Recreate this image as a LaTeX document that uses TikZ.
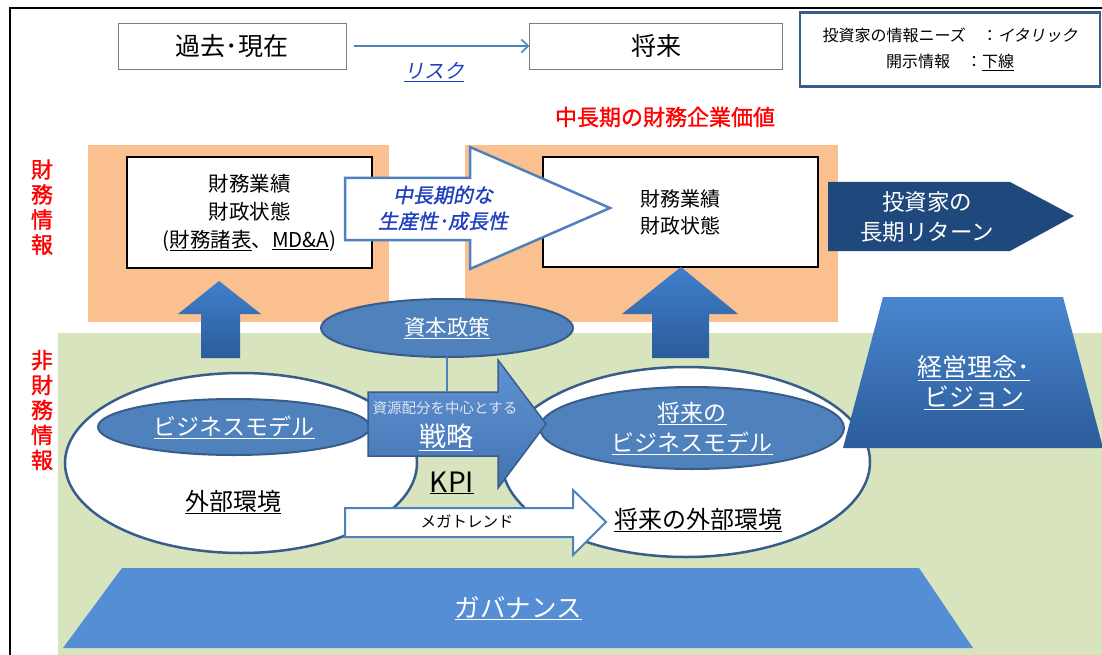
\documentclass[tikz,border=0pt]{standalone}
\usepackage{fontspec}
\setmainfont{Noto Sans CJK JP}
\newfontfamily\jpit[FakeSlant=0.2]{Noto Sans CJK JP}
\newfontfamily\jpbi[FakeSlant=0.2,FakeBold=1.2]{Noto Sans CJK JP}
\newfontfamily\jpb[FakeBold=1.2]{Noto Sans CJK JP}
\usetikzlibrary{arrows.meta,shapes.geometric}
\newcommand\myfs[2]{\fontsize{#1pt}{#2pt}\selectfont}
\definecolor{orangebg}{HTML}{FAC090}
\definecolor{greenbg}{HTML}{D7E4BD}
\definecolor{midblue}{HTML}{4F81BD}
\definecolor{darkline}{HTML}{385D8A}
\definecolor{navyblue}{HTML}{1F497D}
\definecolor{textblue}{HTML}{1F3FBF}
\definecolor{redtxt}{HTML}{FF0000}
\definecolor{upA}{HTML}{3F7FCC}
\definecolor{upB}{HTML}{2C5C9A}
\definecolor{stratblue}{HTML}{4F87D0}
\definecolor{govblue}{HTML}{558ED5}
\definecolor{lighttxt}{HTML}{DCE6F2}
\definecolor{graybox}{HTML}{7F7F7F}
\begin{document}
\begin{tikzpicture}[x=1pt,y=-1pt,
  every node/.style={inner sep=0pt,outer sep=0pt},
  topbox/.style={draw=graybox,line width=0.8pt,fill=white},
  finbox/.style={draw=black,line width=2.5pt,fill=white},
  bigell/.style={ellipse,draw=darkline,line width=2.5pt,fill=white},
  blueell/.style={ellipse,draw=darkline,line width=2pt,fill=midblue,text=white,align=center},
  upshade/.style={top color=upA,bottom color=upB},
  redlabel/.style={text=redtxt,font=\jpb\myfs{22}{25},align=center}
]
\useasboundingbox (0,0) rectangle (1102,655);
\fill[white] (0,0) rectangle (1102,655);
% frame
\draw[line width=2pt] (10,662) -- (10,8) -- (1110,8);
% background regions
\fill[orangebg] (88,145) rectangle (389,322);
\fill[orangebg] (465,145) rectangle (838,322);
\fill[greenbg] (58,333) rectangle (1110,662);

% top row
\node[topbox,minimum width=228pt,minimum height=46pt,font=\myfs{25}{28}] (past) at (232,46) {過去･現在};
\node[topbox,minimum width=253pt,minimum height=46pt,font=\myfs{25}{28}] (future) at (656,46) {将来};
\draw[midblue,line width=1.6pt,shorten <=8pt,-{Straight Barb[length=7pt,width=13pt]}] (past.east) -- (future.west);
\node[text=textblue,font=\jpit\myfs{20}{22}] (risk) at (434,72) {\underline{リスク}};

% legend
\node[draw=darkline,line width=2.5pt,fill=white,minimum width=300pt,minimum height=74pt,align=center,font=\myfs{16}{26}] (legend) at (950,49.5) {投資家の情報ニーズ　：{\jpit イタリック}\\開示情報　：\underline{下線}};

% red labels
\node[redlabel] (fin) at (42,207) {財\\務\\情\\報};
\node[redlabel] (nonfin) at (42,410) {非\\財\\務\\情\\報};
\node[text=redtxt,font=\jpb\myfs{22}{24}] (title) at (665,117) {中長期の財務企業価値};

% financial boxes
\node[finbox,minimum width=245pt,minimum height=111pt,align=center,font=\myfs{20.5}{28}] (fin1) at (249.5,212.5) {財務業績\\財政状態\\(\underline{財務諸表}、\underline{MD\&A})};
\node[finbox,minimum width=275pt,minimum height=110pt,align=center,font=\myfs{20}{27}] (fin2) at (680.5,212) {財務業績\\財政状態};

% big white arrow
\draw[fill=white,draw=midblue,line width=2.5pt,line join=miter]
  (345,178) -- (470,178) -- (470,147) -- (610,208) -- (470,269) -- (470,240) -- (345,240) -- cycle;
\node[text=textblue,font=\jpbi\myfs{20}{26},align=center] (growth) at (443,208) {中長期的な\\生産性･成長性};

% navy arrow
\fill[navyblue] (828,182) -- (1010,182) -- (1074,216) -- (1010,251) -- (828,251) -- cycle;
\node[text=white,font=\myfs{22.5}{30},align=center] (ret) at (927,217) {投資家の\\長期リターン};

% up arrows
\shade[upshade] (219,281) -- (261,314) -- (240,314) -- (240,358) -- (201,358) -- (201,314) -- (178,314) -- cycle;
\shade[upshade] (681,267) -- (738,314) -- (709,314) -- (709,358) -- (652,358) -- (652,314) -- (622,314) -- cycle;

% big white ellipses
\node[bigell,minimum width=352pt,minimum height=180pt] (envL) at (241,463) {};
\node[bigell,minimum width=368pt,minimum height=190pt] (envR) at (686,462) {};

% blue ellipses
\node[blueell,minimum width=272pt,minimum height=56pt,font=\myfs{23}{26}] (bm) at (234,427) {\underline{ビジネスモデル}};
\node[blueell,minimum width=304pt,minimum height=82pt,font=\myfs{23}{30}] (fbm) at (692,428) {\underline{将来の}\\\underline{ビジネスモデル}};
\node[blueell,minimum width=252pt,minimum height=58pt,font=\myfs{21.5}{24}] (capital) at (447,328) {\underline{資本政策}};

% strategy arrow
\shadedraw[top color=stratblue!90!white,bottom color=stratblue!85!black,draw=darkline,line width=1.5pt,line join=miter]
  (368,392) -- (498,392) -- (498,360) -- (546,424) -- (498,488) -- (498,456) -- (368,456) -- cycle;
\coordinate (stratTop) at (447,392);
\draw[midblue,line width=2pt] (capital.south) -- (stratTop);
\node[text=lighttxt,font=\myfs{14.5}{16}] (alloc) at (445,408) {資源配分を中心とする};
\node[text=white,font=\myfs{27}{30}] (strat) at (446,437) {\underline{戦略}};
\node[font=\myfs{28}{30}] (kpi) at (452,483) {\underline{KPI}};

% megatrend arrow
\draw[fill=white,draw=midblue,line width=2pt,line join=miter]
  (345,508) -- (573,508) -- (573,490) -- (606,522) -- (573,555) -- (573,537) -- (345,537) -- cycle;
\node[font=\myfs{15.5}{18}] (mega) at (467,521) {メガトレンド};

\node[font=\myfs{24}{26}] (extL) at (233,502) {\underline{外部環境}};
\node[font=\myfs{24}{26}] (extR) at (698,520) {\underline{将来の外部環境}};

% vision trapezoid
\shade[top color=upA!95!white,bottom color=upB] (883,297) -- (1063,297) -- (1103,448) -- (843,448) -- cycle;
\node[text=white,font=\myfs{25}{30},align=center] (vision) at (974,383) {\underline{経営理念･}\\\underline{ビジョン}};

% governance
\fill[govblue] (122,568) -- (919,568) -- (973,648) -- (63,648) -- cycle;
\node[text=white,font=\myfs{25.5}{28}] (gov) at (518,608) {\underline{ガバナンス}};
\end{tikzpicture}
\end{document}
